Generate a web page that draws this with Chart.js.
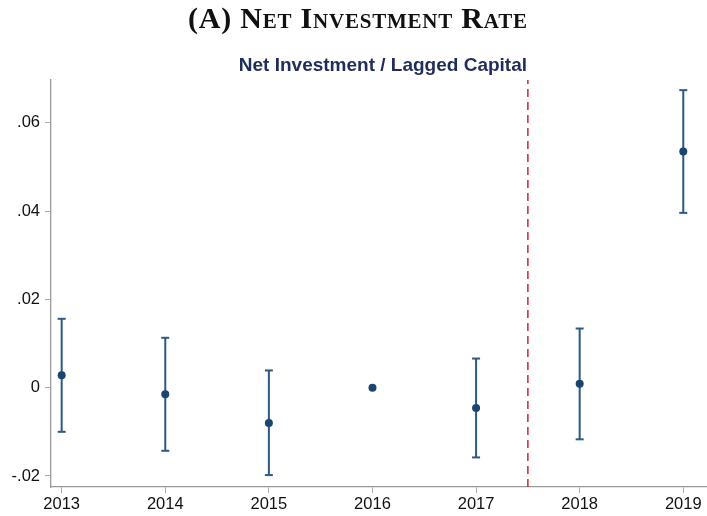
<!DOCTYPE html>
<html>
<head>
<meta charset="utf-8">
<script src="https://cdn.jsdelivr.net/npm/chart.js@4/dist/chart.umd.min.js"></script>
<style>
  html, body { margin: 0; padding: 0; background: #fff; }
  #wrap { width: 707px; height: 516px; position: relative; }
</style>
</head>
<body>
<div id="wrap"><canvas id="c" width="707" height="516"></canvas></div>
<script>
const titleText = "(A) Net Investment Rate";
const subtitleText = "Net Investment / Lagged Capital";
const years = [2013, 2014, 2015, 2016, 2017, 2018, 2019];
const coef  = [0.0028, -0.0015, -0.0080, 0.0000, -0.0046, 0.0009, 0.0535];
const lower = [-0.0100, -0.0143, -0.0198, null, -0.0158, -0.0117, 0.0396];
const upper = [0.0156, 0.0113, 0.0039, null, 0.0066, 0.0134, 0.0674];
const yTicks = [-0.02, 0, 0.02, 0.04, 0.06];
const xTicks = [2013, 2014, 2015, 2016, 2017, 2018, 2019];
const eventLine = 2017.5;
const yRange = [-0.0225, 0.0697];
const xRange = [2012.897, 2019.229];

const pointData = years.map((y, i) => ({ x: y, y: coef[i] }));
const ciData = [];
years.forEach((y, i) => {
  if (lower[i] === null) return;
  ciData.push({ x: y, y: lower[i] });
  ciData.push({ x: y, y: upper[i] });
  ciData.push({ x: y, y: null });
});
const vlineData = [{ x: eventLine, y: yRange[0] }, { x: eventLine, y: yRange[1] }];

const fmt = v => {
  if (Math.abs(v) < 1e-9) return "0";
  const s = v.toFixed(2);
  return s.replace(/^(-?)0\./, "$1.");
};

const titlePlugin = {
  id: 'titles',
  afterDraw(chart) {
    const ctx = chart.ctx;
    ctx.save();
    ctx.fillStyle = '#111';
    ctx.textBaseline = 'alphabetic';
    ctx.textAlign = 'left';
    ctx.font = "small-caps bold 30px 'Liberation Serif', 'DejaVu Serif', serif";
    ctx.letterSpacing = '0px';
    const w = ctx.measureText(titleText).width;
    const target = 339;
    const ls = (target - w) / (titleText.length - 1);
    ctx.letterSpacing = ls.toFixed(2) + 'px';
    ctx.fillText(titleText, 188, 28);
    ctx.letterSpacing = '0px';
    ctx.fillStyle = '#1f2d58';
    ctx.font = "bold 19px 'Liberation Sans', Arial, sans-serif";
    ctx.textAlign = 'right';
    ctx.fillText(subtitleText, 527, 71);
    ctx.restore();
  }
};

new Chart(document.getElementById('c'), {
  type: 'scatter',
  data: {
    datasets: [
      {
        label: 'Estimate',
        data: pointData,
        pointRadius: 4,
        pointHoverRadius: 4,
        pointBackgroundColor: '#1a4570',
        pointBorderColor: '#1a4570',
        pointBorderWidth: 0,
        showLine: false
      },
      {
        label: 'CI',
        data: ciData,
        showLine: true,
        spanGaps: false,
        borderColor: '#2c5a86',
        borderWidth: 2,
        pointStyle: 'line',
        pointRadius: 4,
        pointHoverRadius: 4,
        pointBorderColor: '#2c5a86',
        pointBorderWidth: 2
      },
      {
        label: 'Event',
        data: vlineData,
        showLine: true,
        borderColor: '#c4283c',
        borderWidth: 1.5,
        borderDash: [8, 5],
        pointRadius: 0
      }
    ]
  },
  options: {
    responsive: false,
    animation: false,
    layout: { autoPadding: false, padding: { top: 80, right: 0, left: 0, bottom: 0 } },
    plugins: {
      legend: { display: false },
      tooltip: { enabled: false },
      title: { display: false }
    },
    scales: {
      x: {
        type: 'linear',
        min: xRange[0],
        max: xRange[1],
        afterBuildTicks: s => { s.ticks = xTicks.map(v => ({ value: v })); },
        afterFit: s => { s.height = 29; },
        ticks: {
          autoSkip: false,
          maxRotation: 0,
          padding: 2,
          color: '#111',
          font: { family: "'Liberation Sans', Arial, sans-serif", size: 16.5 },
          callback: v => String(v)
        },
        grid: { display: true, drawOnChartArea: false, drawTicks: true, tickLength: 6, color: '#aaa' },
        border: { display: true, color: '#9a9a9a', width: 1.3 }
      },
      y: {
        type: 'linear',
        min: yRange[0],
        max: yRange[1],
        afterBuildTicks: s => { s.ticks = yTicks.map(v => ({ value: v })); },
        afterFit: s => { s.width = 51; },
        ticks: {
          padding: 5,
          color: '#111',
          font: { family: "'Liberation Sans', Arial, sans-serif", size: 16.5 },
          callback: v => fmt(v)
        },
        grid: { display: true, drawOnChartArea: false, drawTicks: true, tickLength: 6, color: '#aaa' },
        border: { display: true, color: '#9a9a9a', width: 1.3 }
      }
    }
  },
  plugins: [titlePlugin]
});
</script>
</body>
</html>
